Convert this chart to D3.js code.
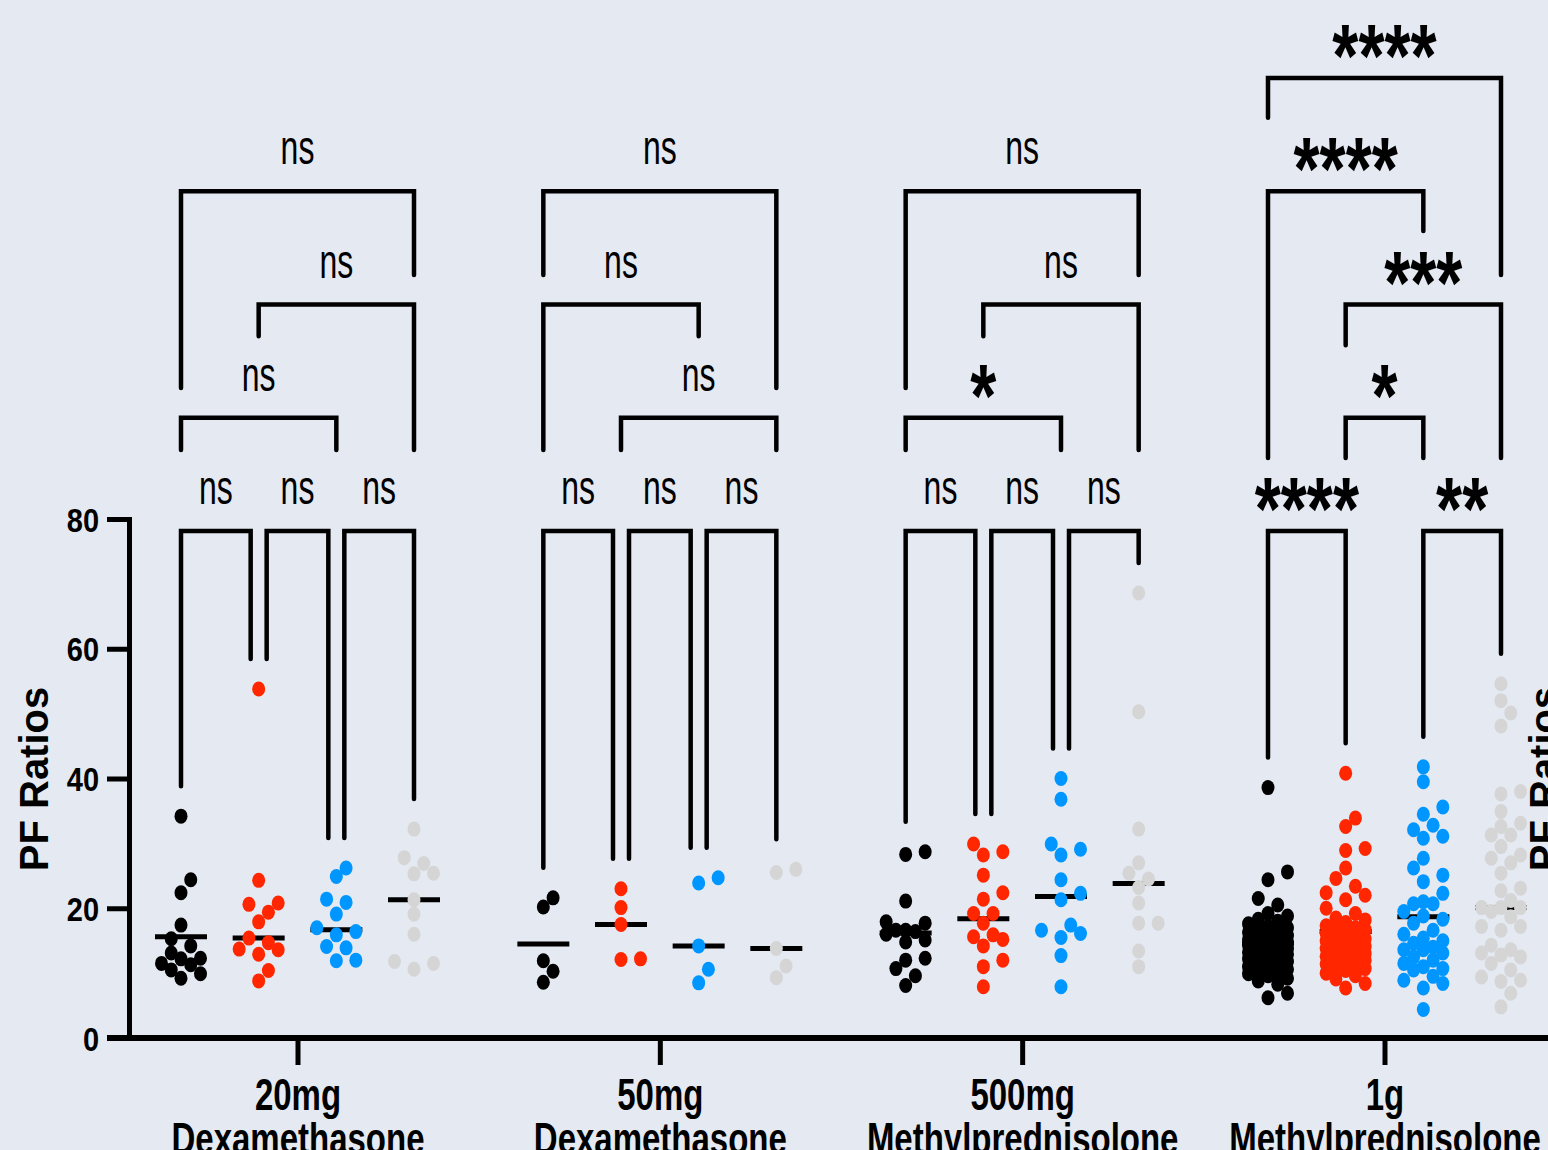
<!DOCTYPE html>
<html>
<head>
<meta charset="utf-8">
<script src="https://cdn.jsdelivr.net/npm/d3@7"></script>
<style>
  html, body { margin: 0; padding: 0; background: #e4e9f2; overflow: hidden; }
  svg { display: block; }
</style>
</head>
<body>
<div id="chart"></div>
<script>
// x categories (two line labels)
var doseNames = ["20mg", "50mg", "500mg", "1g"];
var drugNames = ["Dexamethasone", "Dexamethasone", "Methylprednisolone", "Methylprednisolone"];
var seriesColors = ["#000000", "#ff2600", "#0096ff", "#d5d5d5"];
var yTicks = [0, 20, 40, 60, 80];

// PF ratios, one array per series (black, red, blue, grey) for each dose
var pf20mg = [
  [34.2, 24.4, 22.4, 17.4, 15.3, 14.2, 13.1, 12.3, 12.2, 11.5, 11.3, 10.5, 9.9, 9.2],
  [53.8, 24.3, 20.8, 20.6, 19.4, 17.9, 15.4, 14.7, 13.7, 13.6, 12.9, 10.4, 8.8],
  [26.2, 24.9, 21.4, 20.9, 19.1, 17.0, 16.4, 15.9, 14.1, 13.9, 12.0, 11.9],
  [32.2, 27.8, 26.9, 25.4, 25.3, 21.3, 19.1, 16.0, 11.8, 11.5, 10.6]
];
var pf50mg = [
  [21.6, 20.2, 11.9, 10.3, 8.6],
  [23.0, 20.1, 17.5, 12.2, 12.1],
  [24.7, 23.9, 14.2, 10.6, 8.5],
  [26.0, 25.5, 13.8, 11.1, 9.3]
];
var pf500mg = [
  [28.7, 28.3, 21.1, 17.9, 17.7, 16.6, 16.6, 16.4, 16.0, 15.1, 14.8, 12.3, 12.0, 10.7, 9.6, 8.1],
  [29.9, 28.7, 28.2, 25.1, 22.4, 21.4, 19.2, 19.2, 17.7, 15.9, 15.6, 15.2, 14.2, 12.0, 11.0, 7.9],
  [40.0, 36.8, 29.9, 29.1, 28.2, 24.4, 22.3, 21.3, 17.4, 16.6, 16.1, 15.5, 12.7, 7.9],
  [68.6, 50.3, 32.2, 27.0, 25.4, 24.5, 23.2, 20.8, 17.7, 17.7, 13.4, 11.0]
];
var pf1g = [
  [38.6, 25.6, 24.4, 21.5, 20.5, 19.2, 18.8, 18.3, 18.0, 17.6, 17.2, 17.0, 16.8, 16.6, 16.3, 16.0,
   15.8, 15.6, 15.5, 15.2, 15.0, 14.8, 14.6, 14.5, 14.3, 14.0, 13.8, 13.6, 13.5, 13.2, 13.0, 12.9,
   12.7, 12.4, 12.2, 12.1, 11.8, 11.5, 11.2, 11.0, 10.9, 10.6, 10.3, 10.0, 9.9, 9.6, 9.2, 8.8, 8.3, 6.9, 6.2],
  [40.8, 33.9, 32.6, 29.2, 28.9, 26.2, 24.6, 23.4, 22.4, 22.0, 21.3, 20.0, 19.2, 18.5, 18.2, 17.8,
   17.3, 17.0, 16.9, 16.7, 16.4, 16.1, 15.8, 15.5, 15.3, 15.2, 15.0, 14.7, 14.4, 14.1, 14.0, 13.8,
   13.5, 13.2, 13.0, 12.9, 12.6, 12.3, 12.1, 12.0, 11.7, 11.4, 11.2, 11.0, 10.7, 10.4, 10.0, 9.6, 9.1, 8.4, 7.7],
  [41.8, 39.5, 35.6, 34.5, 32.8, 32.1, 31.1, 30.8, 27.7, 26.2, 25.1, 24.1, 22.3, 21.0, 20.7, 20.7,
   19.5, 18.8, 18.3, 17.7, 16.6, 16.0, 15.4, 15.0, 14.6, 14.0, 13.6, 13.6, 13.1, 12.5, 12.0, 11.5,
   11.0, 10.7, 10.5, 9.5, 8.9, 8.4, 7.7, 4.4],
  [54.6, 52.0, 50.1, 48.1, 38.0, 37.6, 34.9, 33.1, 32.6, 31.3, 31.3, 29.5, 28.2, 27.7, 27.0, 25.4,
   23.1, 22.7, 21.2, 20.1, 20.1, 20.1, 19.5, 18.7, 17.2, 17.2, 16.6, 14.3, 13.6, 13.1, 12.8, 12.5,
   11.5, 10.5, 9.4, 8.9, 8.7, 6.9, 4.8]
];

// horizontal centre line of each series
var centre20mg = [15.6, 15.4, 16.7, 21.3];
var centre50mg = [14.5, 17.5, 14.2, 13.8];
var centre500mg = [16.2, 18.4, 21.8, 23.8];
var centre1g = [14.6, 16.4, 18.7, 20.1];

// multiple comparisons: series a vs b, bracket row, label, leg ends (in bracket rows)
var cmp20mg = [
  { a: 0, b: 1, row: 0, label: "ns" }, { a: 1, b: 2, row: 0, label: "ns" }, { a: 2, b: 3, row: 0, label: "ns" },
  { a: 0, b: 2, row: 1, label: "ns", endA: 0.715, endB: 0.715 },
  { a: 1, b: 3, row: 2, label: "ns", endA: 1.72, endB: 0.715 },
  { a: 0, b: 3, row: 3, label: "ns", endA: 1.263, endB: 2.26 }
];
var cmp50mg = [
  { a: 0, b: 1, row: 0, label: "ns" }, { a: 1, b: 2, row: 0, label: "ns" }, { a: 2, b: 3, row: 0, label: "ns" },
  { a: 1, b: 3, row: 1, label: "ns", endA: 0.715, endB: 0.715 },
  { a: 0, b: 2, row: 2, label: "ns", endA: 0.715, endB: 1.72 },
  { a: 0, b: 3, row: 3, label: "ns", endA: 2.26, endB: 1.263 }
];
var cmp500mg = [
  { a: 0, b: 1, row: 0, label: "ns" }, { a: 1, b: 2, row: 0, label: "ns" }, { a: 2, b: 3, row: 0, label: "ns" },
  { a: 0, b: 2, row: 1, label: "*", endA: 0.715, endB: 0.715 },
  { a: 1, b: 3, row: 2, label: "ns", endA: 1.72, endB: 0.715 },
  { a: 0, b: 3, row: 3, label: "ns", endA: 1.263, endB: 2.26 }
];
var cmp1g = [
  { a: 0, b: 1, row: 0, label: "****" }, { a: 2, b: 3, row: 0, label: "**" },
  { a: 1, b: 2, row: 1, label: "*", endA: 0.645, endB: 0.645 },
  { a: 1, b: 3, row: 2, label: "***", endA: 1.64, endB: 0.645 },
  { a: 0, b: 2, row: 3, label: "****", endA: 0.645, endB: 2.65 },
  { a: 0, b: 3, row: 4, label: "****", endA: 3.65, endB: 2.26 }
];

var doses = [pf20mg, pf50mg, pf500mg, pf1g];
var centres = [centre20mg, centre50mg, centre500mg, centre1g];
var comparisons = [cmp20mg, cmp50mg, cmp500mg, cmp1g];

var W = 1548, H = 1150;
var font = "'Liberation Sans', Arial, Helvetica, sans-serif";

var svg = d3.select("#chart").append("svg")
    .attr("width", W)
    .attr("height", H);

svg.append("rect").attr("width", W).attr("height", H).attr("fill", "#e4e9f2");

var y = d3.scaleLinear().domain([0, 80]).range([1038, 519]);
var groupX = d3.scaleLinear().domain([0, 3]).range([297.5, 1384.5]);
var colX = d3.scaleLinear().domain([0, 3]).range([-116.5, 116.5]);
var rowY = d3.scaleLinear().domain([0, 4]).range([531, 78]);

// simple beeswarm: keep y exact, push points sideways when they collide
function swarm(values) {
  var offsets = [0, 9.75, -9.75, 19.5, -19.5];
  var placed = [];
  values.slice().sort(d3.ascending).forEach(function (v) {
    var py = y(v), best = 0, bestScore = -1;
    for (var k = 0; k < offsets.length; k++) {
      var score = placed.length ? d3.min(placed, function (p) {
        var dx = (p.dx - offsets[k]) / 12, dy = (p.py - py) / 14;
        return Math.sqrt(dx * dx + dy * dy);
      }) : Infinity;
      if (score >= 1) { best = offsets[k]; break; }
      if (score > bestScore) { bestScore = score; best = offsets[k]; }
    }
    placed.push({ v: v, py: py, dx: best });
  });
  return placed;
}

// y axis
var yAxis = d3.axisLeft(y).tickValues(yTicks).tickSize(22).tickSizeOuter(0).tickPadding(8);
var gy = svg.append("g").attr("transform", "translate(129,0)").call(yAxis);
gy.select(".domain").attr("stroke", "#000").attr("stroke-width", 5).attr("stroke-linecap", "square");
gy.selectAll(".tick line").attr("stroke", "#000").attr("stroke-width", 5);
gy.selectAll(".tick text")
    .attr("dy", null)
    .attr("fill", "#000")
    .attr("font-family", font)
    .attr("font-weight", "bold")
    .attr("font-size", 29)
    .attr("transform", "translate(0,12) scale(1,1.17)");

svg.append("text")
    .attr("transform", "translate(48,779) rotate(-90)")
    .attr("text-anchor", "middle")
    .attr("font-family", font)
    .attr("font-weight", "bold")
    .attr("font-size", 40)
    .text("PF Ratios");

// label of the next panel, cut by the right edge
svg.append("text")
    .attr("transform", "translate(1558,779) rotate(-90)")
    .attr("text-anchor", "middle")
    .attr("font-family", font)
    .attr("font-weight", "bold")
    .attr("font-size", 40)
    .text("PF Ratios");

// x axis
svg.append("line")
    .attr("x1", 107).attr("x2", W)
    .attr("y1", y(0)).attr("y2", y(0))
    .attr("stroke", "#000").attr("stroke-width", 6);

var xAxis = d3.axisBottom(groupX).tickValues([0, 1, 2, 3]).tickSize(27).tickSizeOuter(0).tickFormat("");
var gx = svg.append("g").attr("transform", "translate(0," + y(0) + ")").call(xAxis);
gx.select(".domain").remove();
gx.selectAll(".tick line").attr("stroke", "#000").attr("stroke-width", 5);
gx.selectAll(".tick").each(function (d) {
  var t = d3.select(this);
  t.select("text").remove();
  t.append("text")
      .attr("text-anchor", "middle")
      .attr("fill", "#000")
      .attr("font-family", font).attr("font-weight", "bold").attr("font-size", 33)
      .attr("transform", "translate(0,72) scale(1,1.35)")
      .text(doseNames[d]);
  t.append("text")
      .attr("text-anchor", "middle")
      .attr("fill", "#000")
      .attr("font-family", font).attr("font-weight", "bold").attr("font-size", 33)
      .attr("transform", "translate(0,116) scale(1,1.35)")
      .text(drugNames[d]);
});

// centre lines first, dots are drawn over them
doses.forEach(function (series, g) {
  series.forEach(function (vals, s) {
    var cx = groupX(g) + colX(s);
    svg.append("line")
        .attr("x1", cx - 26).attr("x2", cx + 26)
        .attr("y1", y(centres[g][s])).attr("y2", y(centres[g][s]))
        .attr("stroke", "#000").attr("stroke-width", 5);
  });
});

doses.forEach(function (series, g) {
  series.forEach(function (vals, s) {
    var cx = groupX(g) + colX(s);
    svg.append("g").selectAll("ellipse")
        .data(swarm(vals))
        .enter()
        .append("ellipse")
        .attr("cx", function (d) { return cx + d.dx; })
        .attr("cy", function (d) { return d.py; })
        .attr("rx", 6.5)
        .attr("ry", 7.5)
        .attr("fill", seriesColors[s]);
  });
});

// significance brackets
comparisons.forEach(function (list, g) {
  var base = list.filter(function (c) { return c.row === 0; });
  list.forEach(function (c) {
    var xa = groupX(g) + colX(c.a), xb = groupX(g) + colX(c.b);
    var ya, yb;
    if (c.row === 0) {
      // neighbouring brackets share a column: split their legs
      if (base.some(function (o) { return o !== c && o.b === c.a; })) xa += 8;
      if (base.some(function (o) { return o !== c && o.a === c.b; })) xb -= 8;
      ya = y(d3.max(doses[g][c.a])) - 30;
      yb = y(d3.max(doses[g][c.b])) - 30;
    } else {
      ya = rowY(c.endA);
      yb = rowY(c.endB);
    }
    var top = rowY(c.row);
    svg.append("path")
        .attr("d", "M" + xa + "," + ya + "V" + top + "H" + xb + "V" + yb)
        .attr("fill", "none")
        .attr("stroke", "#000")
        .attr("stroke-width", 4.5)
        .attr("stroke-linecap", "round")
        .attr("stroke-linejoin", "miter");

    var mid = (xa + xb) / 2;
    if (c.label === "ns") {
      svg.append("text")
          .attr("text-anchor", "middle")
          .attr("font-family", font).attr("font-size", 32)
          .attr("transform", "translate(" + mid + "," + (top - 27) + ") scale(1,1.5)")
          .text(c.label);
    } else {
      svg.append("text")
          .attr("text-anchor", "middle")
          .attr("font-family", font).attr("font-weight", "bold").attr("font-size", 67)
          .attr("transform", "translate(" + mid + "," + (top + 8) + ") scale(1,1.33)")
          .text(c.label);
    }
  });
});
</script>
</body>
</html>
